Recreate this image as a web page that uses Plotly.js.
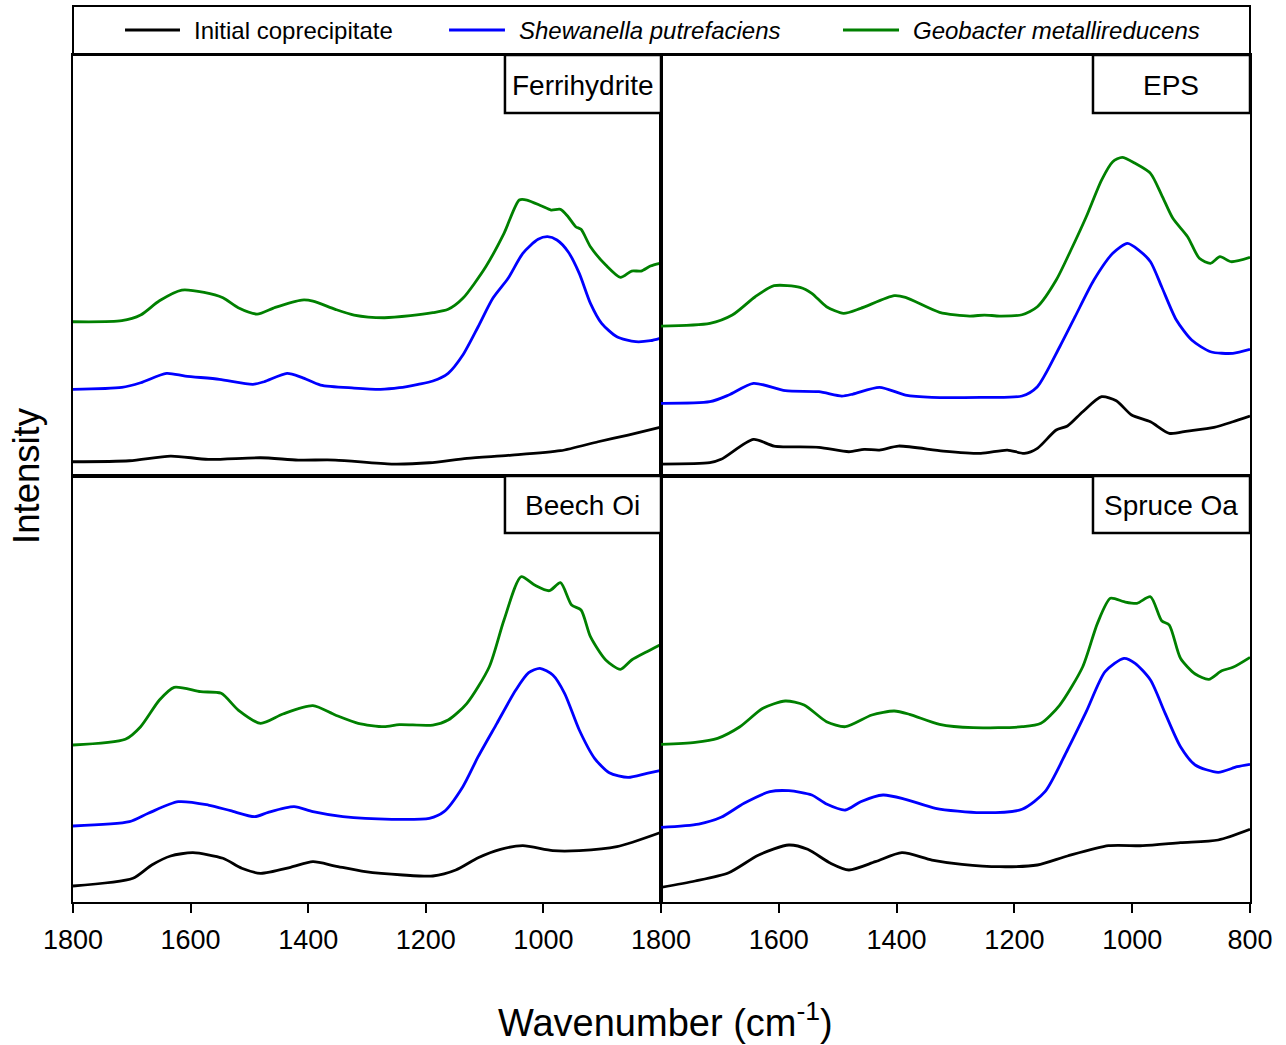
<!DOCTYPE html>
<html>
<head>
<meta charset="utf-8">
<script src="https://cdn.plot.ly/plotly-3.0.1.min.js"></script>
<style>html,body{margin:0;padding:0;background:#fff;}#chart{width:1286px;height:1045px;}</style>
</head>
<body>
<div id="chart"></div>
<script>
// ---- Data (wavenumber in cm-1, intensity in arbitrary offset units) ----
var seriesNames = ["Initial coprecipitate", "Shewanella putrefaciens", "Geobacter metallireducens"];
var panelNames = ["Ferrihydrite", "EPS", "Beech Oi", "Spruce Oa"];
var xTicksLeft = [1800, 1600, 1400, 1200, 1000];
var xTicksRight = [1800, 1600, 1400, 1200, 1000, 800];

// Ferrihydrite
var ferriInitWn = [1800,1704,1634,1570,1481,1417,1354,1258,1194,1130,1060,971,907,856,802];
var ferriInit   = [14.3,15.3,20,16.7,18.3,16,16,12,13.3,17.7,20.7,25.3,34.3,41,48.7];
var ferriShewWn = [1800,1717,1685,1641,1609,1551,1494,1475,1436,1411,1379,1322,1277,1245,1213,1188,1162,1137,1111,1086,1060,1035,1009,993,977,958,939,920,901,875,843,818,802];
var ferriShew   = [86.7,88.7,93.3,102.7,100,96.7,91.7,94.3,102.7,98.7,91,88,86.7,88.3,91.7,95,102.7,121,149.3,177.7,197.7,222.7,236.7,239.3,236,224.3,202.7,172.7,152.7,139.3,134.3,135.3,137.7];
var ferriGeoWn  = [1800,1717,1685,1653,1615,1577,1545,1519,1487,1456,1411,1392,1354,1322,1271,1226,1188,1162,1137,1098,1067,1041,1028,1003,987,971,958,945,936,920,894,869,850,834,818,802];
var ferriGeo    = [154.3,155.3,161,175.3,186,183.7,178.3,168.3,162,168.7,176,175,166.7,161,158.3,160.3,163.3,166.7,177.7,209.3,242.7,276,276,270,266,266.7,259.3,249.3,246.7,229.3,211,198.7,205,205,210,212.7];

// EPS
var epsInitWn = [1800,1717,1698,1643,1608,1532,1481,1455,1429,1397,1321,1257,1212,1183,1161,1129,1110,1084,1052,1027,1001,969,937,906,861,829,800];
var epsInit   = [12,13.3,16.7,36.7,30,28.7,24.3,26.7,26,30,25,22.7,26,22.7,27.7,46,50,64.3,79.3,75.3,61,54.3,42.7,45,48.7,54.3,60];
var epsShewWn = [1800,1717,1685,1643,1589,1532,1493,1474,1429,1385,1340,1257,1187,1161,1123,1097,1065,1033,1008,989,969,950,925,899,867,829,800];
var epsShew   = [72.7,74.3,81,92.7,85.3,84.3,80,82,88.7,81,78.7,78.7,80,89.3,129.3,159.3,196,222.7,232.7,226,214.3,189.3,156,136,124.3,122.7,126.7];
var epsGeoWn  = [1800,1717,1679,1640,1608,1564,1544,1519,1490,1461,1404,1385,1327,1276,1251,1225,1187,1161,1129,1104,1078,1052,1033,1017,995,969,950,931,906,886,867,851,832,800];
var epsGeo    = [150,152.7,161,179.3,190.3,188.7,182.7,169.3,162.7,167.7,180.3,178.7,163.7,160,161,160,161.3,169.3,196,226,259.3,296,314.3,318.7,312.7,302.7,281,257.7,239.3,217.7,212.7,219.3,214.3,218.7];

// Beech Oi
var beechInitWn = [1800,1698,1666,1634,1596,1545,1513,1481,1430,1392,1354,1303,1239,1188,1149,1111,1073,1035,984,939,875,802];
var beechInit   = [16,23.7,37,46,49.3,43.7,33.7,28.7,34.7,40.3,36,30.3,27,26,32,44.3,52.7,56.3,51.3,51.3,55.3,69.3];
var beechShewWn = [1800,1704,1672,1621,1570,1532,1491,1468,1424,1392,1341,1258,1194,1169,1137,1111,1079,1047,1025,1006,984,964,939,913,888,856,824,802];
var beechShew   = [76,80.3,88.7,100.3,97,91.3,85.3,89.7,95.3,90.3,85.3,82.7,83.7,90.3,115.3,145.3,178.7,212,229.3,233.7,227,208.7,172,143.7,129.3,124.7,128.7,131.3];
var beechGeoWn  = [1800,1711,1685,1653,1628,1583,1548,1519,1481,1443,1392,1354,1315,1271,1245,1188,1162,1130,1092,1067,1038,1015,990,971,952,936,920,894,869,850,824,802];
var beechGeo    = [157,162.7,175.3,202,214.7,210.3,208.7,192,178.7,188,196.3,187,178.7,175.3,177.3,177,182,198.7,235.3,282,325.3,317,311.3,319.3,297,292,265.3,242,232.7,242,250.3,257];

// Spruce Oa
var spruceInitWn = [1800,1742,1685,1634,1583,1551,1512,1481,1436,1391,1340,1289,1225,1161,1110,1040,982,918,854,800];
var spruceInit   = [14.7,21,29.3,47,57,52.7,38.7,32,40.3,49.3,42,37.7,35.3,37,46,56.3,56.3,59.3,62,72.7];
var spruceShewWn = [1800,1736,1698,1659,1615,1583,1544,1519,1487,1461,1423,1385,1334,1257,1187,1148,1110,1078,1046,1014,995,969,944,918,893,854,822,800];
var spruceShew   = [74.7,78,84.7,98.7,110.3,111.3,107,98,92,100.3,107,102.7,93.7,89.3,92.7,110.3,152,190.3,230.3,243.7,238.7,222,188.7,155.3,137,129.7,135.3,137.7];
var spruceGeoWn  = [1800,1742,1704,1666,1627,1589,1557,1519,1487,1442,1404,1378,1327,1270,1187,1155,1123,1084,1059,1037,1014,992,969,950,937,918,893,870,848,829,800];
var spruceGeo    = [157.7,159.7,163.7,175.3,193.7,201,197,180.3,175.3,187,191,187.7,177.7,174.3,175.3,178.7,197,235.3,278.7,303.7,300.3,298.7,305.3,281.3,277,243.7,228,222.7,231.3,234.7,244.7];

// ---- Build traces ----
var colors = ["#000000", "#0000ff", "#008000"];
var panels = [
  {xa: "x",  ya: "y",  data: [[ferriInitWn, ferriInit], [ferriShewWn, ferriShew], [ferriGeoWn, ferriGeo]]},
  {xa: "x2", ya: "y2", data: [[epsInitWn, epsInit], [epsShewWn, epsShew], [epsGeoWn, epsGeo]]},
  {xa: "x3", ya: "y3", data: [[beechInitWn, beechInit], [beechShewWn, beechShew], [beechGeoWn, beechGeo]]},
  {xa: "x4", ya: "y4", data: [[spruceInitWn, spruceInit], [spruceShewWn, spruceShew], [spruceGeoWn, spruceGeo]]}
];
var traces = [];
panels.forEach(function(p, pi) {
  p.data.forEach(function(d, si) {
    traces.push({
      x: d[0], y: d[1], xaxis: p.xa, yaxis: p.ya,
      type: "scatter", mode: "lines", name: seriesNames[si],
      line: {color: colors[si], width: 2.8, shape: "spline", smoothing: 0.7},
      showlegend: false, hoverinfo: "x+y+name"
    });
  });
});

// ---- Layout ----
var FONT = "Liberation Sans, Arial, Helvetica, sans-serif";
var xL = [0, 0.49958], xR = [0.49958, 1];
var yTop = [0.4754, 0.9453], yBot = [0, 0.4754];

function xax(dom, anchor, ticks) {
  var a = {
    domain: dom, anchor: anchor, range: [1800, 800], autorange: false,
    showline: true, linecolor: "#000", linewidth: 2, mirror: true,
    showgrid: false, zeroline: false, fixedrange: true
  };
  if (ticks) {
    a.tickmode = "array"; a.tickvals = ticks; a.ticktext = ticks.map(String);
    a.ticks = "outside"; a.ticklen = 9; a.tickwidth = 2; a.tickcolor = "#000";
    a.ticklabelstandoff = 4;
    a.tickfont = {family: FONT, size: 27, color: "#000"};
    a.showticklabels = true;
  } else {
    a.ticks = ""; a.showticklabels = false;
  }
  return a;
}
function yax(dom, anchor, top) {
  return {
    domain: dom, anchor: anchor, range: [0, top], autorange: false,
    showline: true, linecolor: "#000", linewidth: 2, mirror: true,
    showgrid: false, zeroline: false, ticks: "", showticklabels: false, fixedrange: true
  };
}

// legend + panel label helpers (paper coords)
var legLineX = [[0.0442, 0.0909], [0.3195, 0.3670], [0.6542, 0.7018]];
var legTextX = [0.101, 0.377, 0.7118];
var legY = 0.9732;
var boxes = [
  {x0: 0.3670, x1: 0.49958, y0: 0.8806, y1: 0.9453, tx: 0.4333, ty: 0.9112},
  {x0: 0.8666, x1: 1.0,     y0: 0.8806, y1: 0.9453, tx: 0.9333, ty: 0.9112},
  {x0: 0.3670, x1: 0.49958, y0: 0.4118, y1: 0.4754, tx: 0.4333, ty: 0.4425},
  {x0: 0.8666, x1: 1.0,     y0: 0.4118, y1: 0.4754, tx: 0.9333, ty: 0.4425}
];

var shapes = [{type: "rect", xref: "paper", yref: "paper", x0: 0, x1: 1, y0: 0.9453, y1: 1,
               line: {color: "#000", width: 2}, fillcolor: "rgba(0,0,0,0)"}];
legLineX.forEach(function(lx, i) {
  shapes.push({type: "line", xref: "paper", yref: "paper", x0: lx[0], x1: lx[1], y0: legY, y1: legY,
               line: {color: colors[i], width: 2.8}});
});
boxes.forEach(function(b) {
  shapes.push({type: "rect", xref: "paper", yref: "paper", x0: b.x0, x1: b.x1, y0: b.y0, y1: b.y1,
               line: {color: "#000", width: 2.5}, fillcolor: "#fff"});
});

var annotations = [];
seriesNames.forEach(function(n, i) {
  annotations.push({xref: "paper", yref: "paper", x: legTextX[i], y: legY, xanchor: "left", yanchor: "middle",
    text: i === 0 ? n : "<i>" + n + "</i>", showarrow: false, font: {family: FONT, size: 24, color: "#000"}});
});
boxes.forEach(function(b, i) {
  annotations.push({xref: "paper", yref: "paper", x: b.tx, y: b.ty, xanchor: "center", yanchor: "middle",
    text: panelNames[i], showarrow: false, font: {family: FONT, size: 28, color: "#000"}});
});
annotations.push({xref: "paper", yref: "paper", x: 0.503, y: -0.1317, xanchor: "center", yanchor: "middle",
  text: "Wavenumber (cm<sup>-1</sup>)", showarrow: false, font: {family: FONT, size: 38, color: "#000"}});
annotations.push({xref: "paper", yref: "paper", x: -0.0391, y: 0.4766, xanchor: "center", yanchor: "middle",
  text: "Intensity", textangle: -90, showarrow: false, font: {family: FONT, size: 36.5, color: "#000"}});

var layout = {
  width: 1286, height: 1045,
  margin: {l: 73, r: 36, t: 6, b: 143, pad: 0},
  paper_bgcolor: "#fff", plot_bgcolor: "rgba(0,0,0,0)",
  showlegend: false,
  font: {family: FONT, color: "#000"},
  xaxis:  xax(xL, "y",  null),
  xaxis2: xax(xR, "y2", null),
  xaxis3: xax(xL, "y3", xTicksLeft),
  xaxis4: xax(xR, "y4", xTicksRight),
  yaxis:  yax(yTop, "x",  421),
  yaxis2: yax(yTop, "x2", 421),
  yaxis3: yax(yBot, "x3", 426),
  yaxis4: yax(yBot, "x4", 426),
  shapes: shapes,
  annotations: annotations
};

Plotly.newPlot("chart", traces, layout, {displayModeBar: false, staticPlot: true});
</script>
</body>
</html>
